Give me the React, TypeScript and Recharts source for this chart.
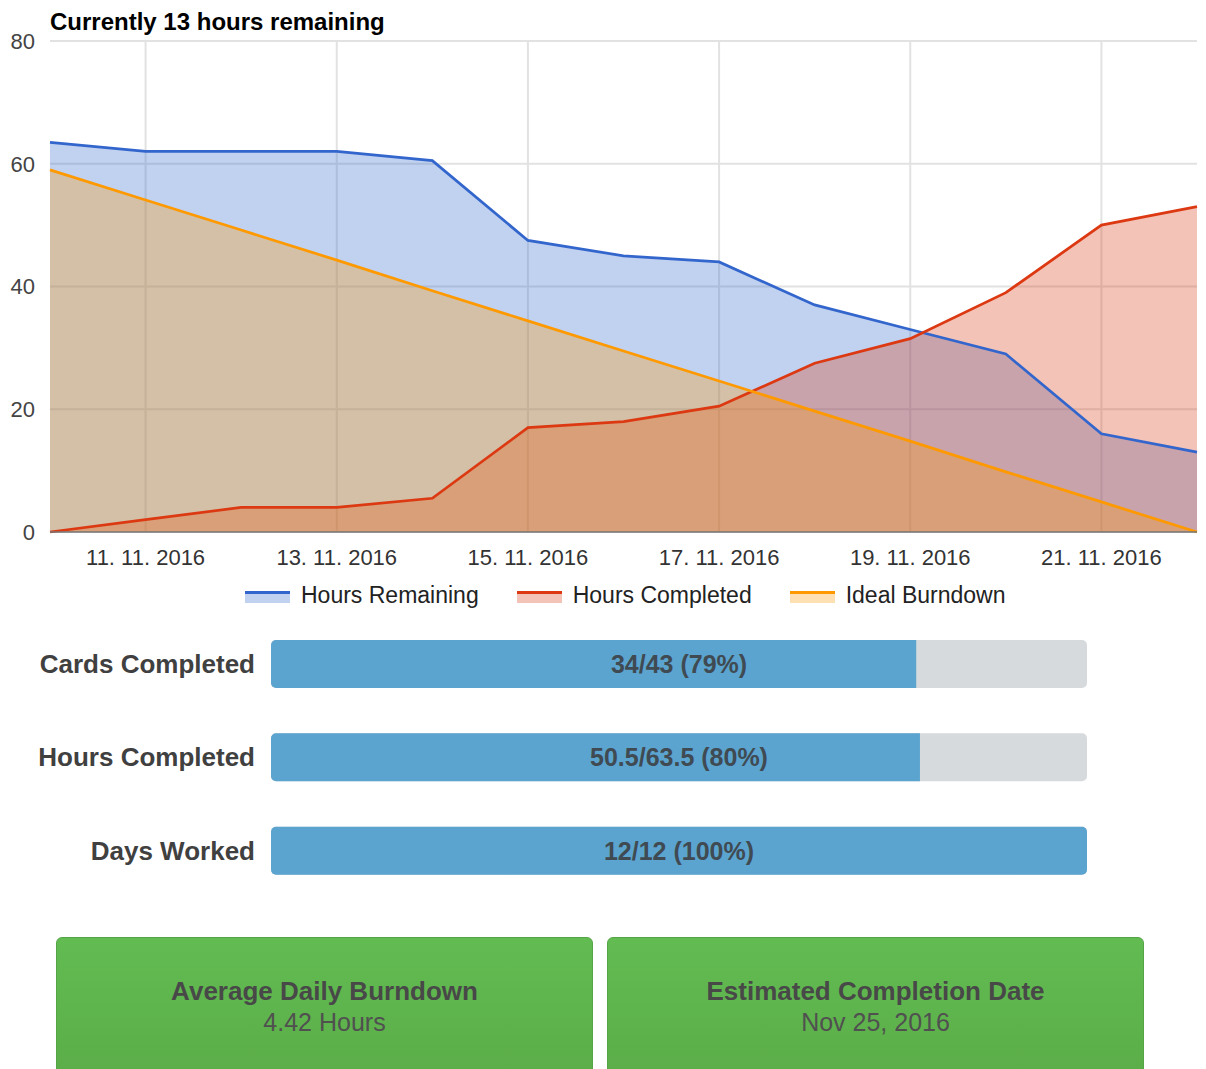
import { Area, Bar, BarChart, CartesianGrid, ComposedChart, LabelList, Line, Rectangle, XAxis, YAxis } from "recharts";

// burndown, one point per day of November 2016
const days = [10, 11, 12, 13, 14, 15, 16, 17, 18, 19, 20, 21, 22];
const hoursRemaining = [63.5, 62, 62, 62, 60.5, 47.5, 45, 44, 37, 33, 29, 16, 13];
const hoursCompleted = [0, 2, 4, 4, 5.5, 17, 18, 20.5, 27.5, 31.5, 39, 50, 53];
const idealBurndown = [59, 54.1, 49.2, 44.3, 39.3, 34.4, 29.5, 24.6, 19.7, 14.8, 9.8, 4.9, 0];
const dayTicks = [11, 13, 15, 17, 19, 21];
const hourTicks = [0, 20, 40, 60, 80];

const progressLabels = ["Cards Completed", "Hours Completed", "Days Worked"];
const progressDone = [34, 50.5, 12];
const progressTotal = [43, 63.5, 12];

const statTitles = ["Average Daily Burndown", "Estimated Completion Date"];
const statValues = ["4.42 Hours", "Nov 25, 2016"];

const BLUE = "#3366CC";
const RED = "#DC3912";
const ORANGE = "#FF9900";
const FONT = "'Liberation Sans', Arial, sans-serif";

const burndownData = days.map((day, i) => ({
  day,
  remaining: hoursRemaining[i],
  completed: hoursCompleted[i],
  ideal: idealBurndown[i],
}));

const series = [
  { key: "remaining", name: "Hours Remaining", color: BLUE },
  { key: "completed", name: "Hours Completed", color: RED },
  { key: "ideal", name: "Ideal Burndown", color: ORANGE },
];

const progressRows = progressLabels.map((label, i) => {
  const pct = (progressDone[i] / progressTotal[i]) * 100;
  return {
    label,
    pct,
    text: `${progressDone[i]}/${progressTotal[i]} (${Math.round(pct)}%)`,
  };
});

function ProgressFill(props: any) {
  const full = props.payload && props.payload.pct >= 100;
  return <Rectangle {...props} radius={full ? 5 : [5, 0, 0, 5]} />;
}

function ProgressText(props: any) {
  const box = props.viewBox ?? props;
  const row = progressRows[props.index];
  if (!row || !box) return null;
  const fullWidth = (box.width * 100) / row.pct;
  return (
    <text
      x={box.x + fullWidth / 2}
      y={box.y + box.height / 2}
      textAnchor="middle"
      dominantBaseline="central"
      fill="#3f4a52"
      fontSize={25}
      fontWeight="bold"
      fontFamily={FONT}
    >
      {row.text}
    </text>
  );
}

export default function App() {
  return (
    <div
      style={{
        position: "absolute",
        left: 0,
        top: 0,
        width: 1206,
        height: 1069,
        overflow: "hidden",
        background: "#fff",
        fontFamily: FONT,
      }}
    >
      <div
        style={{
          position: "absolute",
          left: 50,
          top: 10,
          lineHeight: "24px",
          fontSize: 24,
          fontWeight: "bold",
          color: "#000",
        }}
      >
        Currently 13 hours remaining
      </div>

      <div style={{ position: "absolute", left: 0, top: 0 }}>
        <ComposedChart width={1206} height={600} data={burndownData} margin={{ top: 41, right: 9, left: 0, bottom: 0 }}>
          {/* syncWithTicks: grid only on the labelled days, no lines at the plot edges */}
          <CartesianGrid stroke="#e2e2e2" strokeWidth={2} syncWithTicks />
          <XAxis
            dataKey="day"
            type="number"
            domain={[days[0], days[days.length - 1]]}
            ticks={dayTicks}
            height={68}
            tickFormatter={(d) => `${d}. 11. 2016`}
            tickLine={false}
            tickSize={0}
            tickMargin={17}
            axisLine={{ stroke: "#777", strokeWidth: 1.5 }}
            tick={{ fill: "#333", fontSize: 22, fontFamily: FONT }}
          />
          <YAxis
            type="number"
            domain={[0, 80]}
            ticks={hourTicks}
            width={50}
            axisLine={false}
            tickLine={false}
            tickSize={0}
            tickMargin={15}
            tick={{ fill: "#444", fontSize: 22, fontFamily: FONT }}
          />
          {series.map((s) => (
            <Area
              key={`area-${s.key}`}
              type="linear"
              dataKey={s.key}
              stroke="none"
              fill={s.color}
              fillOpacity={0.3}
              dot={false}
              activeDot={false}
              isAnimationActive={false}
              legendType="none"
            />
          ))}
          {series.map((s) => (
            <Line
              key={`line-${s.key}`}
              type="linear"
              dataKey={s.key}
              name={s.name}
              stroke={s.color}
              strokeWidth={2.75}
              dot={false}
              activeDot={false}
              isAnimationActive={false}
            />
          ))}
        </ComposedChart>
      </div>

      <div style={{ position: "absolute", left: 245, top: 582, display: "flex", alignItems: "center" }}>
        {series.map((item, i) => (
          <div key={item.name} style={{ display: "flex", alignItems: "center", marginLeft: i === 0 ? 0 : 38 }}>
            <svg width={45} height={16} style={{ marginRight: 11 }}>
              <rect x={0} y={5} width={45} height={11} fill={item.color} fillOpacity={0.3} />
              <rect x={0} y={4} width={45} height={3} fill={item.color} />
            </svg>
            <span style={{ fontSize: 23, color: "#222", lineHeight: "26px" }}>{item.name}</span>
          </div>
        ))}
      </div>

      <div style={{ position: "absolute", left: 0, top: 617 }}>
        <BarChart
          width={1206}
          height={280}
          data={progressRows}
          layout="vertical"
          margin={{ top: 0, right: 119, left: 0, bottom: 0 }}
        >
          <XAxis type="number" domain={[0, 100]} hide />
          <YAxis
            type="category"
            dataKey="label"
            width={271}
            axisLine={false}
            tickLine={false}
            tickSize={0}
            tickMargin={16}
            tick={{ fill: "#404040", fontSize: 26, fontWeight: "bold", fontFamily: FONT }}
          />
          <Bar
            dataKey="pct"
            barSize={48}
            fill="#5ba4cf"
            background={{ fill: "#d6dadd", radius: 5 }}
            shape={ProgressFill}
            isAnimationActive={false}
          >
            <LabelList dataKey="text" content={ProgressText} />
          </Bar>
        </BarChart>
      </div>

      {statTitles.map((title, i) => (
        <div
          key={title}
          style={{
            position: "absolute",
            left: i === 0 ? 56 : 607,
            top: 937,
            width: 537,
            height: 160,
            boxSizing: "border-box",
            border: "1px solid #55a445",
            borderRadius: 6,
            background: "linear-gradient(#62bc52, #5aab47)",
            textAlign: "center",
            paddingTop: 38,
          }}
        >
          <div style={{ fontSize: 26, lineHeight: "31px", fontWeight: "bold", color: "#484848" }}>{title}</div>
          <div style={{ fontSize: 25, lineHeight: "31px", color: "#505050" }}>{statValues[i]}</div>
        </div>
      ))}
    </div>
  );
}
